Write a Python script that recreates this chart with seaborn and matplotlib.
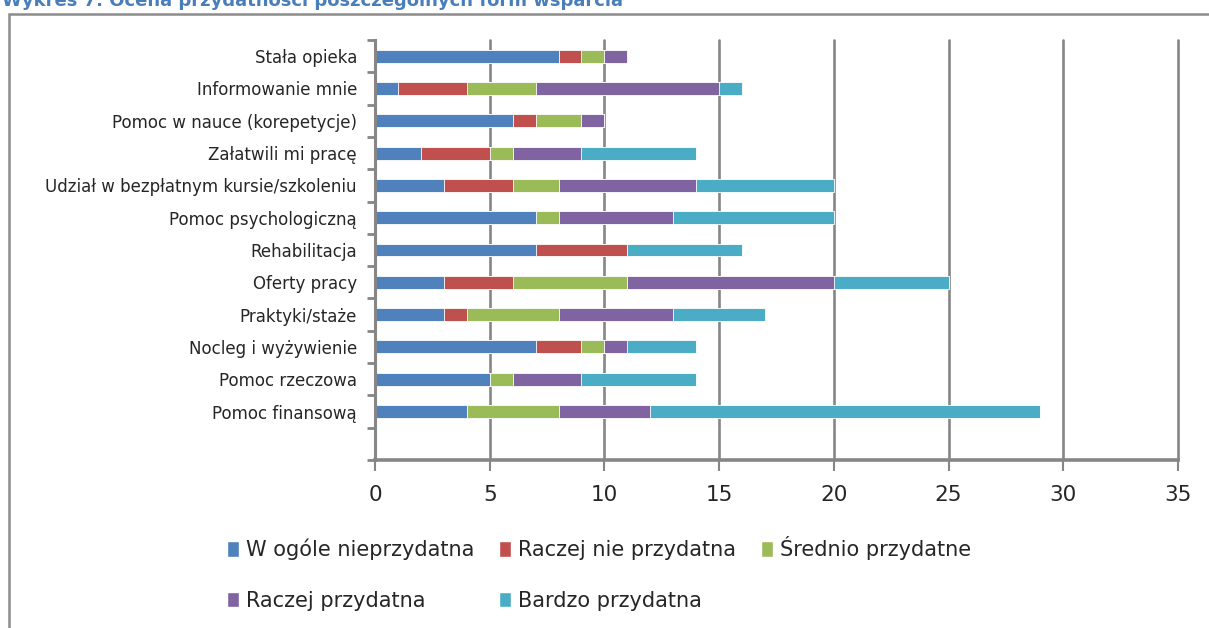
import matplotlib
matplotlib.use("Agg")
import matplotlib.pyplot as plt
from matplotlib.patches import Rectangle, Patch
import numpy as np
import pandas as pd
import seaborn as sns

# Forms of support (top to bottom); the last slot stays empty
categories = [
    "Stała opieka",
    "Informowanie mnie",
    "Pomoc w nauce (korepetycje)",
    "Załatwili mi pracę",
    "Udział w bezpłatnym kursie/szkoleniu",
    "Pomoc psychologiczną",
    "Rehabilitacja",
    "Oferty pracy",
    "Praktyki/staże",
    "Nocleg i wyżywienie",
    "Pomoc rzeczowa",
    "Pomoc finansową",
    "",
]

series_names = [
    "W ogóle nieprzydatna",
    "Raczej nie przydatna",
    "Średnio przydatne",
    "Raczej przydatna",
    "Bardzo przydatna",
]

w_ogole_nieprzydatna = [8, 1, 6, 2, 3, 7, 7, 3, 3, 7, 5, 4, 0]
raczej_nie_przydatna = [1, 3, 1, 3, 3, 0, 4, 3, 1, 2, 0, 0, 0]
srednio_przydatne = [1, 3, 2, 1, 2, 1, 0, 5, 4, 1, 1, 4, 0]
raczej_przydatna = [1, 8, 1, 3, 6, 5, 0, 9, 5, 1, 3, 4, 0]
bardzo_przydatna = [0, 1, 0, 5, 6, 7, 5, 5, 4, 3, 5, 17, 0]

x_ticks = [0, 5, 10, 15, 20, 25, 30, 35]

colors = ["#4F81BD", "#C0504D", "#9BBB59", "#8064A2", "#4BACC6"]

values = np.array([w_ogole_nieprzydatna, raczej_nie_przydatna, srednio_przydatne,
                   raczej_przydatna, bardzo_przydatna], dtype=float)
cumulative = np.cumsum(values, axis=0)

sns.set_style("white")
plt.rcParams["font.family"] = ["DejaVu Sans Condensed", "DejaVu Sans"]

W, H = 1209, 628
fig = plt.figure(figsize=(W / 100, H / 100), dpi=100)
ax = fig.add_axes([375 / W, 1 - 460 / H, (1178 - 375) / W, (460 - 40) / H])

# Stacked bars: draw the running totals from the largest down
for i in range(len(series_names) - 1, -1, -1):
    df = pd.DataFrame({"kategoria": categories, "wartosc": cumulative[i]})
    sns.barplot(data=df, x="wartosc", y="kategoria", orient="h", order=categories,
                color=colors[i], saturation=1, width=0.4, ax=ax,
                edgecolor="white", linewidth=0.6, errorbar=None)

grid_c = "#868686"
ax.set_xlim(0, 35)
ax.set_ylim(len(categories) - 0.5, -0.5)
ax.set_xticks(x_ticks)
ax.set_xticklabels([str(t) for t in x_ticks], fontsize=15.5)
ax.set_xlabel("")
ax.set_ylabel("")
ax.xaxis.grid(True, color=grid_c, linewidth=1.9)
ax.set_axisbelow(True)
for gl in ax.xaxis.get_gridlines():
    gl.set_clip_on(False)

ax.set_yticks(range(len(categories)))
ax.set_yticklabels(categories, fontsize=12)
ax.set_yticks(np.arange(-0.5, len(categories)), minor=True)
ax.tick_params(axis="y", which="major", left=False, length=0, pad=13)
ax.tick_params(axis="y", which="minor", left=True, length=6, width=2, color=grid_c,
               direction="out")
ax.tick_params(axis="x", which="major", bottom=True, length=8, width=1.5, color=grid_c,
               direction="out", pad=10)

for side in ["top", "right"]:
    ax.spines[side].set_visible(False)
ax.spines["left"].set_color(grid_c)
ax.spines["left"].set_linewidth(2.2)
ax.spines["bottom"].set_color(grid_c)
ax.spines["bottom"].set_linewidth(2.6)

# Legend in two rows, filled left to right
handles = [Patch(facecolor=c, edgecolor="white") for c in colors]
order = [0, 3, 1, 4, 2]
fig.legend([handles[k] for k in order], [series_names[k] for k in order],
           ncol=3, loc="upper left", bbox_to_anchor=(219 / W, 1 - 528 / H),
           frameon=False, fontsize=15, handlelength=0.55, handleheight=0.75,
           handletextpad=0.35, columnspacing=1.2, labelspacing=1.45,
           borderaxespad=0)

# Outer chart frame
fig.add_artist(Rectangle((9 / W, -0.05), 1.2, 1.05 - 14 / H, transform=fig.transFigure,
                         fill=False, edgecolor="#8c8c8c", linewidth=1.8))

fig.text(2 / W, 1 - 6 / H, "Wykres 7. Ocena przydatności poszczególnych form wsparcia",
         color="#4A7EBB", fontsize=13, fontweight="bold", va="baseline", ha="left")

fig.savefig("out.png", dpi=100)
